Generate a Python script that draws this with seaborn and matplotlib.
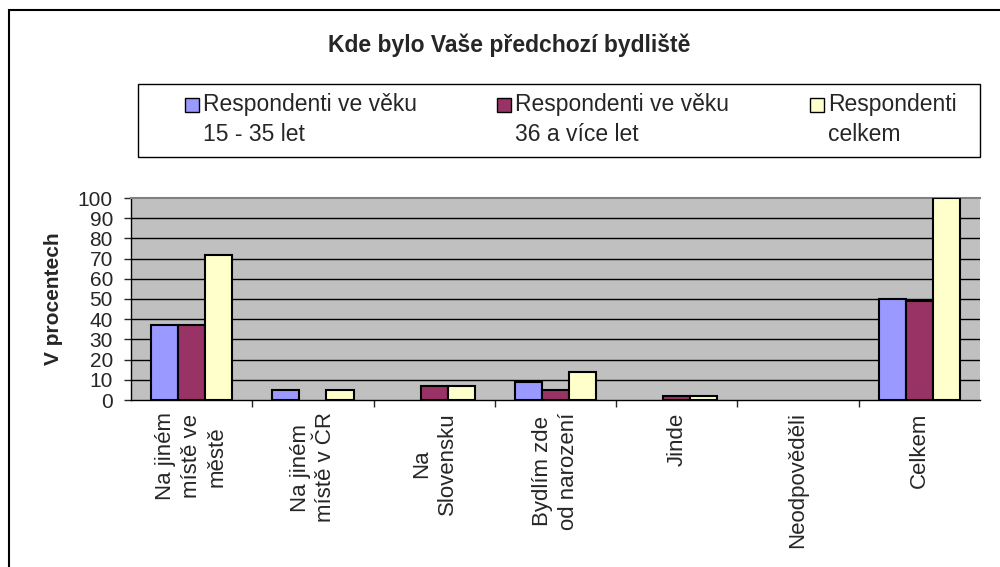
import matplotlib
matplotlib.use("Agg")
import matplotlib.pyplot as plt
import matplotlib.patches as mpatches
import seaborn as sns
import pandas as pd
import numpy as np

############################################################
# Data
############################################################
categories = ["Na jiném\nmístě ve\nměstě", "Na jiném\nmístě v ČR", "Na\nSlovensku",
              "Bydlím zde\nod narození", "Jinde", "Neodpověděli", "Celkem"]
series = ["Respondenti ve věku\n15 - 35 let", "Respondenti ve věku\n36 a více let",
          "Respondenti\ncelkem"]
young = [37, 5, 0, 9, 0, 0, 50]
older = [37, 0, 7, 5, 2, 0, 49]
total = [72, 5, 7, 14, 2, 0, 100]
colors = ["#9999FF", "#993366", "#FFFFCC"]

df = pd.DataFrame({
    "kategorie": categories * 3,
    "skupina": [series[0]] * 7 + [series[1]] * 7 + [series[2]] * 7,
    "procento": young + older + total,
})

sns.set_style("white")
plt.rcParams["font.family"] = ["Liberation Sans", "DejaVu Sans"]

W, H = 1000, 567
fig = plt.figure(figsize=(10, 5.67), dpi=100)
ax = fig.add_axes([131 / W, 1 - 400 / H, 849 / W, 202 / H])

sns.barplot(data=df, x="kategorie", y="procento", hue="skupina", palette=colors,
            saturation=1, width=0.67, edgecolor="black", linewidth=1.5, ax=ax,
            legend=False, zorder=3)
# Excel draws nothing for empty bars
for p in ax.patches:
    if p.get_height() == 0:
        p.set_linewidth(0)

ax.set_facecolor("#C0C0C0")
ax.set_ylim(0, 100)
ax.set_xlim(-0.5, 6.5)
ax.set_yticks(range(0, 101, 10))
for y in range(10, 100, 10):
    ax.axhline(y, color="black", lw=1, zorder=1)
ax.tick_params(axis="y", labelsize=15, length=5, width=1, direction="out", left=True, pad=8)
ax.set_xticks(range(7))
ax.set_xticklabels(categories, rotation=90, fontsize=16, va="top", ha="center",
                   linespacing=1.3)
ax.set_xticks(np.arange(0.5, 6.5, 1), minor=True)
ax.tick_params(axis="x", which="major", length=0, pad=9)
ax.tick_params(axis="x", which="minor", length=5, width=1, direction="out", bottom=True)
for lab in ax.get_xticklabels():
    lab.set_multialignment("center")
ax.set_xlabel("")
ax.set_ylabel("V procentech", fontsize=15, fontweight="bold")
ax.yaxis.set_label_coords(-(131 - 63) / 849, 0.5)
for side in ["left", "bottom"]:
    ax.spines[side].set_color("black")
    ax.spines[side].set_linewidth(1)
ax.spines["top"].set_color("#808080")
ax.spines["top"].set_linewidth(1.5)
ax.spines["right"].set_visible(False)

fig.text(509 / W, 1 - 45 / H, "Kde bylo Vaše předchozí bydliště", ha="center",
         va="center", fontsize=16.5, fontweight="bold")

# legend box drawn like the Excel one: square marker next to the first line
fig.add_artist(mpatches.Rectangle((138 / W, 1 - 157 / H), 842 / W, 73 / H,
                                  transform=fig.transFigure, facecolor="white",
                                  edgecolor="black", linewidth=1))
handle_x = [185, 497, 810]
for hx, c, s in zip(handle_x, colors, series):
    fig.add_artist(mpatches.Rectangle((hx / W, 1 - 112 / H), 14 / W, 14 / H,
                                      transform=fig.transFigure, facecolor=c,
                                      edgecolor="black", linewidth=1))
    fig.text((hx + 18) / W, 1 - 93 / H, s, ha="left", va="top", fontsize=16.5,
             linespacing=1.4)

fig.add_artist(mpatches.Rectangle((9 / W, -0.1), 1.1, 0.1 + 1 - 10 / H,
                                  transform=fig.transFigure, fill=False,
                                  edgecolor="black", linewidth=1.5))

fig.savefig("out.png", dpi=100)
